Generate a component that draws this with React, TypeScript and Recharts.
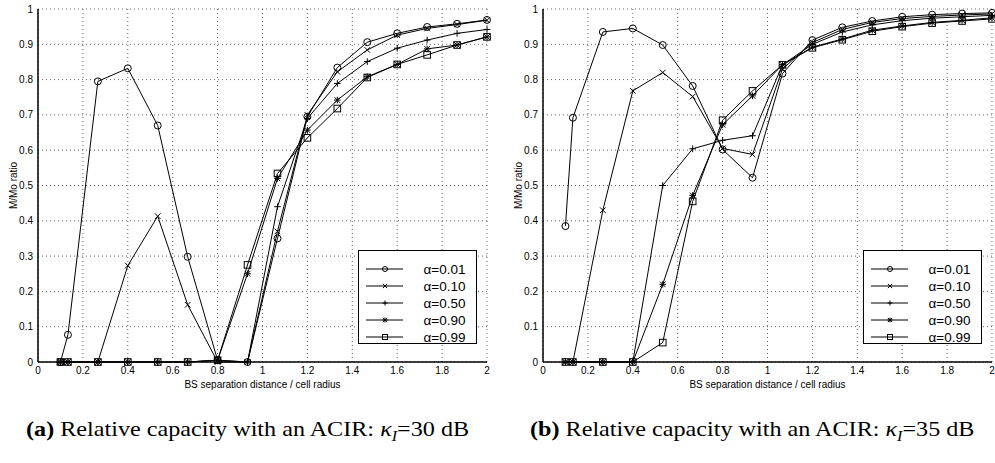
import React from 'react';
import { LineChart, Line, XAxis, YAxis, CartesianGrid, Legend } from 'recharts';

// BS separation distance / cell radius
const distances = [0.1, 0.1333, 0.2667, 0.4, 0.5333, 0.6667, 0.8, 0.9333, 1.0667, 1.2, 1.3333, 1.4667, 1.6, 1.7333, 1.8667, 2.0];

const alphaLabels = ['α=0.01', 'α=0.10', 'α=0.50', 'α=0.90', 'α=0.99'];
const markerKinds = ['circle', 'cross', 'plus', 'star', 'square'];

// (a) ACIR 30 dB
const acir30Alpha001 = [0, 0.077, 0.795, 0.832, 0.67, 0.298, 0.005, 0, 0.35, 0.695, 0.834, 0.906, 0.931, 0.949, 0.958, 0.969];
const acir30Alpha010 = [0, 0, 0, 0.273, 0.413, 0.162, 0, 0, 0.37, 0.7, 0.822, 0.884, 0.926, 0.945, 0.956, 0.968];
const acir30Alpha050 = [0, 0, 0, 0, 0, 0, 0.005, 0, 0.44, 0.69, 0.789, 0.851, 0.889, 0.912, 0.931, 0.942];
const acir30Alpha090 = [0, 0, 0, 0, 0, 0, 0.005, 0.25, 0.52, 0.657, 0.742, 0.808, 0.843, 0.887, 0.898, 0.921];
const acir30Alpha099 = [0, 0, 0, 0, 0, 0, 0.005, 0.275, 0.534, 0.635, 0.718, 0.806, 0.843, 0.87, 0.898, 0.921];

// (b) ACIR 35 dB
const acir35Alpha001 = [0.385, 0.692, 0.935, 0.945, 0.898, 0.782, 0.602, 0.522, 0.817, 0.912, 0.948, 0.966, 0.978, 0.984, 0.987, 0.989];
const acir35Alpha010 = [0, 0, 0.43, 0.768, 0.82, 0.752, 0.605, 0.588, 0.83, 0.905, 0.942, 0.962, 0.973, 0.979, 0.983, 0.986];
const acir35Alpha050 = [0, 0, 0, 0, 0.5, 0.604, 0.628, 0.641, 0.842, 0.9, 0.935, 0.955, 0.967, 0.974, 0.978, 0.982];
const acir35Alpha090 = [0, 0, 0, 0, 0.22, 0.472, 0.672, 0.754, 0.842, 0.892, 0.915, 0.94, 0.952, 0.962, 0.968, 0.975];
const acir35Alpha099 = [0, 0, 0, 0, 0.055, 0.455, 0.685, 0.768, 0.842, 0.89, 0.913, 0.937, 0.95, 0.96, 0.966, 0.972];

const xTicks = [0, 0.2, 0.4, 0.6, 0.8, 1, 1.2, 1.4, 1.6, 1.8, 2];
const yTicks = [0, 0.1, 0.2, 0.3, 0.4, 0.5, 0.6, 0.7, 0.8, 0.9, 1];

const sans = '"Liberation Sans", Arial, sans-serif';
const serif = '"Liberation Serif", "Times New Roman", serif';
const fmt = (v: number) => String(Number(v.toFixed(1)));
const blank = () => '';

const buildRows = (series: number[][]) =>
  distances.map((d, i) => {
    const row: Record<string, number> = { d };
    series.forEach((s, k) => (row['s' + k] = s[i]));
    return row;
  });

const Marker = ({ kind, cx, cy, s }: { kind: string; cx: number; cy: number; s: number }) => {
  const st = { stroke: '#000', strokeWidth: 1, fill: 'none' };
  const x = `M${cx - s * 0.85},${cy - s * 0.85}L${cx + s * 0.85},${cy + s * 0.85}M${cx - s * 0.85},${cy + s * 0.85}L${cx + s * 0.85},${cy - s * 0.85}`;
  const p = `M${cx - s},${cy}L${cx + s},${cy}M${cx},${cy - s}L${cx},${cy + s}`;
  if (kind === 'circle') return <circle cx={cx} cy={cy} r={s} {...st} />;
  if (kind === 'square') return <rect x={cx - s} y={cy - s} width={2 * s} height={2 * s} {...st} />;
  if (kind === 'cross') return <path d={x} {...st} />;
  if (kind === 'plus') return <path d={p} {...st} />;
  return <path d={x + p} {...st} />;
};

const LegendBox = () => (
  <div
    style={{
      width: 119,
      height: 94,
      boxSizing: 'border-box',
      border: '1px solid #000',
      background: '#fff',
      position: 'relative',
      fontFamily: sans,
      fontSize: 13.5,
      color: '#000',
    }}
  >
    {alphaLabels.map((lab, i) => (
      <div key={lab} style={{ position: 'absolute', left: 0, top: 9 + i * 17, height: 18, display: 'flex', alignItems: 'center' }}>
        <svg width={60} height={18} style={{ display: 'block' }}>
          <line x1={7} x2={44} y1={9} y2={9} stroke="#000" strokeWidth={1} />
          <Marker kind={markerKinds[i]} cx={26} cy={9} s={2.5} />
        </svg>
        <span style={{ marginLeft: 5, whiteSpace: 'nowrap' }}>{lab}</span>
      </div>
    ))}
  </div>
);

const Panel = ({ series, width, marginLeft, marginRight }: { series: number[][]; width: number; marginLeft: number; marginRight: number }) => {
  const rows = buildRows(series);
  const tick = { fontSize: 10, fill: '#000', fontFamily: sans };
  return (
    <LineChart width={width} height={400} data={rows} margin={{ top: 9, right: marginRight, bottom: 8, left: marginLeft }}>
      <CartesianGrid stroke="#666" strokeDasharray="1 3" />
      <XAxis
        dataKey="d"
        type="number"
        domain={[0, 2]}
        ticks={xTicks}
        interval={0}
        tickFormatter={fmt}
        tick={tick}
        tickLine={false}
        tickSize={3}
        tickMargin={2}
        axisLine={{ stroke: '#000', strokeWidth: 1.5 }}
        height={30}
        label={{ value: 'BS separation distance / cell radius', position: 'insideBottom', offset: 4, fontSize: 10, fill: '#000', fontFamily: sans }}
      />
      <XAxis xAxisId="bin" dataKey="d" type="number" domain={[0, 2]} ticks={xTicks} allowDataOverflow mirror tickFormatter={blank} tickSize={4} axisLine={false} tickLine={{ stroke: '#000' }} height={0} />
      <XAxis xAxisId="top" orientation="top" dataKey="d" type="number" domain={[0, 2]} ticks={xTicks} allowDataOverflow mirror tickFormatter={blank} tickSize={4} axisLine={{ stroke: '#000', strokeWidth: 1.5 }} tickLine={{ stroke: '#000' }} height={0} />
      <YAxis
        type="number"
        domain={[0, 1]}
        ticks={yTicks}
        interval={0}
        tickFormatter={fmt}
        tick={tick}
        tickLine={false}
        tickSize={3}
        tickMargin={2}
        axisLine={{ stroke: '#000', strokeWidth: 1.5 }}
        width={30}
        label={{ value: 'M/Mo ratio', angle: -90, position: 'insideLeft', offset: 5, fontSize: 10, fill: '#000', fontFamily: sans, style: { textAnchor: 'middle' } }}
      />
      <YAxis yAxisId="lin" type="number" domain={[0, 1]} ticks={yTicks} allowDataOverflow mirror tickFormatter={blank} tickSize={4} axisLine={false} tickLine={{ stroke: '#000' }} width={0} />
      <YAxis yAxisId="right" orientation="right" type="number" domain={[0, 1]} ticks={yTicks} allowDataOverflow mirror tickFormatter={blank} tickSize={4} axisLine={{ stroke: '#000', strokeWidth: 1.5 }} tickLine={{ stroke: '#000' }} width={0} />
      {series.map((_, k) => (
        <Line
          key={k}
          dataKey={'s' + k}
          type="linear"
          stroke="#000"
          strokeWidth={1}
          isAnimationActive={false}
          dot={(p: any) => <Marker key={'m' + k + '-' + p.index} kind={markerKinds[k]} cx={p.cx} cy={p.cy} s={k === 0 ? 3.5 : 3.3} />}
          activeDot={false}
        />
      ))}
      <Legend
        layout="vertical"
        align="center"
        verticalAlign="middle"
        content={() => <LegendBox />}
        wrapperStyle={{ left: marginLeft + 30 + 319.5, top: 250, width: 119, height: 94 }}
      />
    </LineChart>
  );
};

const Caption = ({ tag, db, left }: { tag: string; db: string; left: number }) => (
  <div
    style={{
      position: 'absolute',
      left,
      top: 416,
      fontFamily: serif,
      fontSize: 21,
      color: '#000',
      whiteSpace: 'nowrap',
      lineHeight: '26px',
      transform: 'scaleX(1.15)',
      transformOrigin: 'left center',
    }}
  >
    <b>({tag})</b> Relative capacity with an ACIR: <i>κ</i>
    <sub style={{ fontSize: 14 }}>
      <i>I</i>
    </sub>
    ={db} dB
  </div>
);

export default function App() {
  return (
    <div style={{ position: 'absolute', left: 0, top: 0, width: 995, height: 463, background: '#fff', overflow: 'hidden' }}>
      <div style={{ position: 'absolute', left: 0, top: 0 }}>
        <Panel series={[acir30Alpha001, acir30Alpha010, acir30Alpha050, acir30Alpha090, acir30Alpha099]} width={495} marginLeft={8} marginRight={8} />
      </div>
      <div style={{ position: 'absolute', left: 495, top: 0 }}>
        <Panel series={[acir35Alpha001, acir35Alpha010, acir35Alpha050, acir35Alpha090, acir35Alpha099]} width={500} marginLeft={18} marginRight={3} />
      </div>
      <Caption tag="a" db="30" left={26} />
      <Caption tag="b" db="35" left={530} />
    </div>
  );
}
